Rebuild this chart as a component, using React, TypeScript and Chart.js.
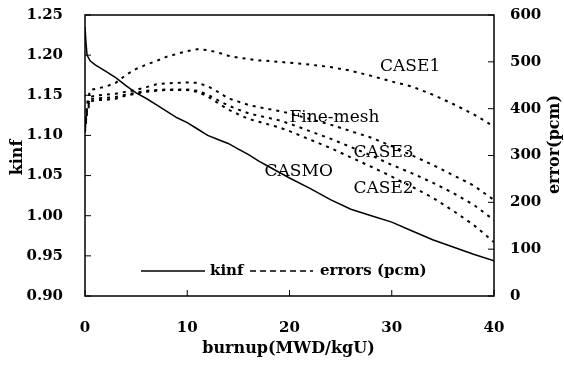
import React, { useEffect, useRef } from "react";
import { Chart, registerables } from "chart.js";
Chart.register(...registerables);

const FONT = "'DejaVu Serif', serif";

// kinf (left axis)
const kinfBurnup = [0, 0.1, 0.2, 0.5, 1, 2, 3, 4, 5, 6, 7, 8, 9, 10, 11, 12, 13, 14, 15, 16, 17, 18, 20, 22, 24, 26, 28, 30, 32, 34, 36, 38, 40];
const kinfValues = [1.235, 1.215, 1.2, 1.193, 1.188, 1.18, 1.172, 1.162, 1.153, 1.146, 1.138, 1.13, 1.122, 1.116, 1.108, 1.1, 1.095, 1.09, 1.083, 1.076, 1.068, 1.061, 1.047, 1.034, 1.02, 1.008, 1.0, 0.992, 0.981, 0.97, 0.961, 0.952, 0.944];

// errors (right axis, pcm)
const errBurnup = [0, 0.2, 0.5, 1, 2, 3, 4, 5, 6, 7, 8, 9, 10, 11, 12, 13, 14, 15, 16, 17, 18, 19, 20, 22, 24, 26, 28, 30, 32, 34, 36, 38, 40];
const case1 = [360, 410, 440, 442, 447, 455, 472, 485, 494, 502, 511, 517, 523, 527, 525, 520, 513, 509, 506, 503, 502, 500, 498, 494, 489, 481, 470, 458, 447, 430, 410, 388, 362];
const fineMesh = [360, 400, 425, 428, 430, 432, 436, 440, 446, 452, 454, 455, 456, 455, 448, 436, 422, 415, 408, 403, 399, 395, 390, 378, 366, 352, 338, 320, 300, 280, 258, 236, 205];
const case3 = [355, 395, 420, 422, 423, 425, 430, 434, 438, 440, 441, 441, 441, 438, 430, 418, 407, 398, 390, 385, 380, 375, 368, 352, 336, 318, 300, 280, 262, 242, 220, 195, 162];
const case2 = [350, 390, 415, 418, 419, 421, 428, 432, 436, 438, 440, 440, 440, 436, 426, 412, 398, 388, 378, 372, 366, 360, 352, 334, 316, 296, 276, 255, 233, 210, 182, 152, 115];

// curve labels: [text, burnup, value, axis]
const curveLabels: [string, number, number, string][] = [
  ["CASE1", 31.8, 489, "y1"],
  ["Fine-mesh", 24.4, 382, "y1"],
  ["CASE3", 29.2, 307, "y1"],
  ["CASE2", 29.2, 230, "y1"],
  ["CASMO", 20.9, 1.055, "y"],
];

const xTicks = [0, 10, 20, 30, 40];

const pts = (xs: number[], ys: number[]) => xs.map((x, i) => ({ x, y: ys[i] }));

export default function App() {
  const ref = useRef<HTMLCanvasElement>(null);
  useEffect(() => {
    document.body.style.margin = "0";
    const dashed = (label: string, data: number[]) => ({
      label,
      data: pts(errBurnup, data),
      yAxisID: "y1",
      borderColor: "#000",
      borderWidth: 2,
      borderDash: [3, 5],
      pointRadius: 0,
      tension: 0,
      fill: false,
    });
    const overlay = {
      id: "overlay",
      afterDraw(chart: any) {
        const { ctx, chartArea: a, scales } = chart;
        ctx.save();
        ctx.strokeStyle = "#000";
        ctx.fillStyle = "#000";
        ctx.lineWidth = 1.5;
        ctx.strokeRect(a.left, a.top, a.right - a.left, a.bottom - a.top);
        ctx.lineWidth = 1;
        const seg = (x1: number, y1: number, x2: number, y2: number) => {
          ctx.beginPath();
          ctx.moveTo(x1, y1);
          ctx.lineTo(x2, y2);
          ctx.stroke();
        };
        scales.y.ticks.forEach((t: any) => {
          const p = scales.y.getPixelForValue(t.value);
          seg(a.left, p, a.left + 6, p);
        });
        scales.y1.ticks.forEach((t: any) => {
          const p = scales.y1.getPixelForValue(t.value);
          seg(a.right - 6, p, a.right, p);
        });
        scales.x.ticks.forEach((t: any) => {
          const p = scales.x.getPixelForValue(t.value);
          seg(p, a.bottom, p, a.bottom - 6);
        });
        // axis titles
        ctx.font = `bold 16px ${FONT}`;
        ctx.textAlign = "center";
        ctx.textBaseline = "middle";
        ctx.fillText("burnup(MWD/kgU)", (a.left + a.right) / 2 - 1, a.bottom + 53);
        ctx.save();
        ctx.translate(18, (a.top + a.bottom) / 2 + 2);
        ctx.rotate(-Math.PI / 2);
        ctx.fillText("kinf", 0, 0);
        ctx.restore();
        ctx.save();
        ctx.translate(a.right + 61, (a.top + a.bottom) / 2 - 11);
        ctx.rotate(-Math.PI / 2);
        ctx.fillText("error(pcm)", 0, 0);
        ctx.restore();
        // curve labels
        ctx.font = `17px ${FONT}`;
        curveLabels.forEach(([txt, bx, v, ax]) => {
          ctx.fillText(txt, scales.x.getPixelForValue(bx), scales[ax].getPixelForValue(v));
        });
        // legend
        const ly = a.bottom - 25;
        ctx.lineWidth = 1.5;
        seg(a.left + 56, ly, a.left + 120, ly);
        ctx.setLineDash([6, 4]);
        seg(a.left + 165, ly, a.left + 228, ly);
        ctx.setLineDash([]);
        ctx.textAlign = "left";
        ctx.font = `bold 15px ${FONT}`;
        ctx.fillText("kinf", a.left + 125, ly);
        ctx.fillText("errors (pcm)", a.left + 235, ly);
        ctx.restore();
      },
    };
    const tickFont = { family: FONT, size: 15, weight: "bold" };
    const noPad = (s: any) => {
      s.paddingTop = 0;
      s.paddingBottom = 0;
      s.paddingLeft = 0;
      s.paddingRight = 0;
    };
    const chart = new Chart(ref.current!, {
      type: "line",
      data: {
        datasets: [
          {
            label: "kinf",
            data: pts(kinfBurnup, kinfValues),
            yAxisID: "y",
            borderColor: "#000",
            borderWidth: 1.5,
            pointRadius: 0,
            tension: 0,
            fill: false,
          },
          dashed("CASE1", case1),
          dashed("Fine-mesh", fineMesh),
          dashed("CASE3", case3),
          dashed("CASE2", case2),
        ],
      },
      options: {
        animation: false,
        responsive: true,
        maintainAspectRatio: false,
        layout: { padding: { top: 15, left: 0, right: 0, bottom: 0 } },
        plugins: { legend: { display: false }, tooltip: { enabled: false } },
        scales: {
          x: {
            type: "linear",
            min: 0,
            max: 40,
            afterBuildTicks: (s: any) => {
              s.ticks = xTicks.map((v) => ({ value: v }));
            },
            ticks: { color: "#000", font: tickFont, padding: 23, maxRotation: 0 },
            grid: { display: false, drawTicks: false },
            border: { display: false },
            afterFit: (s: any) => {
              s.height = 71;
              noPad(s);
            },
          },
          y: {
            position: "left",
            min: 0.9,
            max: 1.25,
            ticks: {
              stepSize: 0.05,
              color: "#000",
              font: tickFont,
              padding: 22,
              callback: (v: any) => Number(v).toFixed(2),
            },
            grid: { display: false, drawTicks: false },
            border: { display: false },
            afterFit: (s: any) => {
              s.width = 85;
              noPad(s);
            },
          },
          y1: {
            position: "right",
            min: 0,
            max: 600,
            ticks: { stepSize: 100, color: "#000", font: tickFont, padding: 16 },
            grid: { display: false, drawTicks: false },
            border: { display: false },
            afterFit: (s: any) => {
              s.width = 70;
              noPad(s);
            },
          },
        },
      },
      plugins: [overlay],
    } as any);
    return () => chart.destroy();
  }, []);
  return (
    <div style={{ width: 564, height: 367, position: "relative", background: "#fff" }}>
      <canvas ref={ref} />
    </div>
  );
}
